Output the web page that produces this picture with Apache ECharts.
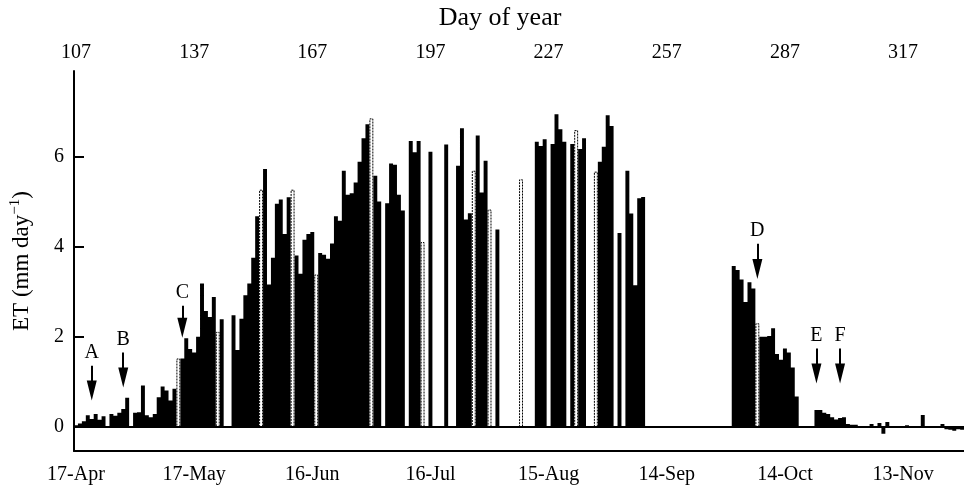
<!DOCTYPE html>
<html>
<head>
<meta charset="utf-8">
<script src="https://cdn.jsdelivr.net/npm/echarts@6/dist/echarts.min.js"></script>
<style>
  html, body { margin: 0; padding: 0; background: #fff; overflow: hidden; }
  /* plot runs past the right edge of the window, as in the original */
  #chart { width: 972px; height: 492px; }
</style>
</head>
<body>
<div id="chart"></div>
<script>
// daily ET (mm/day), day 107 .. 334, null = no data
const firstDay = 107;
const et = [
  0.04, 0.08, 0.13, 0.26, 0.18, 0.29, 0.16, 0.24, null, 0.29,   // 107-116
  0.25, 0.32, 0.40, 0.65, null, 0.32, 0.33, 0.92, 0.26, 0.22,   // 117-126
  0.29, 0.66, 0.90, 0.81, 0.59, 0.85, 1.52, 1.52, 1.97, 1.73,   // 127-136
  1.65, 2.00, 3.18, 2.57, 2.44, 2.88, 2.11, 2.39, null, null,   // 137-146
  2.48, 1.71, 2.40, 2.92, 3.18, 3.75, 4.67, 5.26, 5.72, 3.16,   // 147-156
  3.75, 4.95, 5.04, 4.28, 5.09, 5.26, 3.80, 3.40, 4.15, 4.28,   // 157-166
  4.32, 3.38, 3.86, 3.82, 3.73, 4.07, 4.67, 4.57, 5.68, 5.15,   // 167-176
  5.18, 5.42, 5.88, 6.40, 6.71, 6.84, 5.57, 5.00, null, 4.96,   // 177-186
  5.84, 5.81, 5.15, 4.80, null, 6.34, 6.09, 6.34, 4.10, null,   // 187-196
  6.10, null, null, null, 6.26, null, null, 5.79, 6.62, 4.60,   // 197-206
  4.74, 5.68, 6.46, 5.20, 5.90, 4.82, null, 4.38, null, null,   // 207-216
  null, null, null, 5.49, null, null, null, 6.32, 6.23, 6.38,   // 217-226
  null, 6.27, 6.93, 6.60, 6.32, null, 6.27, 6.58, 6.16, 6.40,   // 227-236
  null, null, 5.66, 5.88, 6.21, 6.91, 6.67, null, 4.30, null,   // 237-246
  5.68, 4.73, 3.14, 5.07, 5.10, null, null, null, null, null,   // 247-256
  null, null, null, null, null, null, null, null, null, null,   // 257-266
  null, null, null, null, null, null, null, 3.57, 3.48, 3.27,   // 267-276
  2.77, 3.21, 3.07, 2.30, 2.00, 2.00, 2.02, 2.19, 1.62, 1.49,   // 277-286
  1.74, 1.65, 1.32, 0.68, null, null, null, null, 0.38, 0.38,   // 287-296
  0.32, 0.29, 0.22, 0.17, 0.20, 0.22, 0.07, 0.05, 0.05, 0.02,   // 297-306
  0.01, 0.02, 0.07, 0.02, 0.09, -0.15, 0.11, 0.02, 0.01, 0.01,  // 307-316
  0.01, 0.04, 0.00, 0.01, 0.01, 0.27, 0.02, 0.01, 0.02, -0.02,  // 317-326
  0.07, -0.05, -0.06, -0.08, -0.05, -0.06, -0.04, -0.05         // 327-334
];
// gap-filled days (dotted bars)
const filledDays = [133, 143, 154, 162, 168, 182, 195, 208, 212, 220, 234, 239, 280];

const dayTicks = [107, 137, 167, 197, 227, 257, 287, 317];
const dateTicks = ['17-Apr', '17-May', '16-Jun', '16-Jul', '15-Aug', '14-Sep', '14-Oct', '13-Nov'];
const yTicks = [0, 2, 4, 6];

// event arrows: day, shaft start and arrow end (mm/day)
const arrows = [
  { name: 'A', day: 111, from: 1.36, to: 0.81 },
  { name: 'B', day: 119, from: 1.65, to: 1.10 },
  { name: 'C', day: 134, from: 2.69, to: 2.20 },
  { name: 'D', day: 280, from: 4.06, to: 3.50 },
  { name: 'E', day: 295, from: 1.74, to: 1.19 },
  { name: 'F', day: 301, from: 1.74, to: 1.19 }
];

const font = 'Liberation Serif';
const days = et.map((v, i) => String(firstDay + i));
const measured = et.map((v, i) => filledDays.includes(firstDay + i) ? null : v);
const filled = et.map((v, i) => filledDays.includes(firstDay + i) ? v : null);
const isTick = (i, v) => dayTicks.includes(+v);

let chart = echarts.init(document.getElementById('chart'));
let option = {
  animation: false,
  grid: { left: 74, right: 0, top: 69, bottom: 41 },
  xAxis: [
    {
      type: 'category',
      position: 'top',
      data: days,
      name: 'Day of year',
      nameLocation: 'middle',
      nameGap: 40,
      nameTextStyle: { fontFamily: font, fontSize: 26, color: '#000', padding: [0, 46, 0, 0] },
      axisLine: { lineStyle: { color: '#000', width: 2 } },
      axisTick: { inside: true, length: 10, alignWithLabel: true, interval: isTick, lineStyle: { color: '#000', width: 2 } },
      axisLabel: { interval: isTick, fontFamily: font, fontSize: 20, color: '#000', margin: 8 }
    },
    {
      type: 'category',
      position: 'bottom',
      data: days,
      axisLine: { lineStyle: { color: '#000', width: 2 } },
      axisTick: { inside: true, length: 8, alignWithLabel: true, interval: isTick, lineStyle: { color: '#000', width: 2 } },
      axisLabel: {
        interval: isTick, fontFamily: font, fontSize: 20, color: '#000', margin: 14,
        formatter: v => dateTicks[dayTicks.indexOf(+v)]
      }
    }
  ],
  yAxis: {
    type: 'value',
    min: -0.53,
    max: 7.89,
    name: 'ET (mm day{sup|−1})',
    nameLocation: 'middle',
    nameGap: 38,
    nameTextStyle: {
      fontFamily: font, fontSize: 23, color: '#000',
      rich: { sup: { fontFamily: font, fontSize: 15, color: '#000', verticalAlign: 'top', lineHeight: 28 } }
    },
    splitLine: { show: false },
    axisLine: { show: true, lineStyle: { color: '#000', width: 2 } },
    axisTick: { show: true, inside: true, length: 10, customValues: yTicks, lineStyle: { color: '#000', width: 2 } },
    axisLabel: { customValues: yTicks, fontFamily: font, fontSize: 20, color: '#000', margin: 10 }
  },
  series: [
    {
      name: 'measured',
      type: 'bar',
      data: measured,
      large: true,
      largeThreshold: 1,
      barCategoryGap: '0%',
      barGap: '-100%',
      itemStyle: { color: '#000' },
      markLine: {
        silent: true,
        symbol: ['none', 'triangle'],
        symbolSize: [10, 20],
        lineStyle: { color: '#000', width: 2, type: 'solid' },
        label: {
          show: true, position: 'start', distance: 3, formatter: '{b}',
          fontFamily: font, fontSize: 20, color: '#000'
        },
        data: arrows.map(a => [
          { name: a.name, coord: [String(a.day), a.from] },
          { coord: [String(a.day), a.to] }
        ])
      }
    },
    {
      name: 'filled',
      type: 'bar',
      data: filled,
      barCategoryGap: '0%',
      barGap: '-100%',
      itemStyle: { color: '#fff', borderColor: '#000', borderWidth: 1, borderType: [2, 1] },
      markLine: {
        silent: true,
        symbol: 'none',
        lineStyle: { color: '#000', width: 2, type: 'solid' },
        label: { show: false },
        data: [{ yAxis: 0 }]
      }
    }
  ]
};
chart.setOption(option);
</script>
</body>
</html>
